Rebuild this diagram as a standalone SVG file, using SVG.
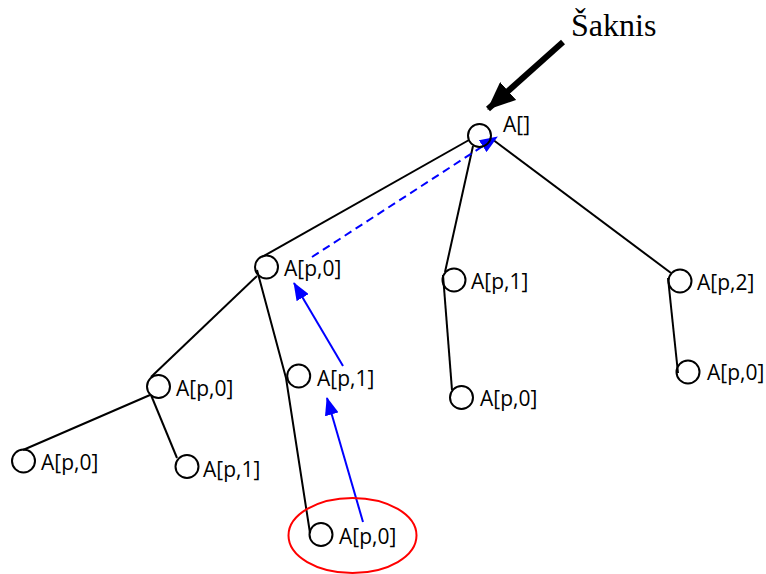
<svg xmlns="http://www.w3.org/2000/svg" width="766" height="574" viewBox="0 0 766 574">
<style>
.n{fill:none;stroke:#000;stroke-width:2}
.e{fill:none;stroke:#000;stroke-width:2}
.t{font-family:"Open Sans","DejaVu Sans",sans-serif;font-size:21px;fill:#000}
.b{fill:none;stroke:#0000ff;stroke-width:2}
</style>
<defs>
<marker id="ab" markerWidth="18" markerHeight="14" refX="17" refY="7" orient="auto" markerUnits="userSpaceOnUse">
<path d="M0,0 L18,7 L0,14 Z" fill="#0000ff"/>
</marker>
<marker id="ak" markerWidth="28" markerHeight="24" refX="27" refY="12" orient="auto" markerUnits="userSpaceOnUse">
<path d="M0,0 L28,12 L0,24 Z" fill="#000"/>
</marker>
</defs>
<rect width="766" height="574" fill="#fff"/>
<g id="connectors">
<line class="e" x1="469" y1="140" x2="262" y2="257"/>
<line class="e" x1="473" y1="146" x2="445" y2="272"/>
<line class="e" x1="492" y1="139" x2="671" y2="273"/>
<line class="e" x1="257" y1="276" x2="151" y2="377"/>
<polyline class="e" points="257,270 286,378 310,533"/>
<line class="e" x1="150" y1="395" x2="23" y2="450"/>
<line class="e" x1="151" y1="395" x2="177" y2="458"/>
<line class="e" x1="443" y1="275" x2="452" y2="390"/>
<line class="e" x1="668" y1="278" x2="678" y2="373"/>
<line class="b" x1="312" y1="257" x2="497" y2="137" stroke-dasharray="8,5" marker-end="url(#ab)"/>
<line class="b" x1="343" y1="366" x2="294" y2="283" marker-end="url(#ab)"/>
<line class="b" x1="363" y1="522" x2="327" y2="398" marker-end="url(#ab)"/>
<line x1="563" y1="42" x2="488" y2="109" stroke="#000" stroke-width="6" marker-end="url(#ak)"/>
</g>
<g id="root"><circle class="n" cx="479.5" cy="135.5" r="11.5"/><text class="t" x="503" y="132">A[]</text></g>
<g id="n1"><circle class="n" cx="266.5" cy="267" r="11.5"/><text class="t" x="284" y="276">A[p,0]</text></g>
<g id="n2"><circle class="n" cx="454" cy="280" r="11.5"/><text class="t" x="471" y="289">A[p,1]</text></g>
<g id="n3"><circle class="n" cx="680" cy="281" r="11.5"/><text class="t" x="697" y="290">A[p,2]</text></g>
<g id="n4"><circle class="n" cx="158.5" cy="386.5" r="11.5"/><text class="t" x="176" y="396">A[p,0]</text></g>
<g id="n5"><circle class="n" cx="298.7" cy="376" r="11.5"/><text class="t" x="317" y="386">A[p,1]</text></g>
<g id="n6"><circle class="n" cx="461.5" cy="397.5" r="11.5"/><text class="t" x="480" y="406">A[p,0]</text></g>
<g id="n7"><circle class="n" cx="688" cy="372" r="11.5"/><text class="t" x="707" y="380">A[p,0]</text></g>
<g id="n8"><circle class="n" cx="23.5" cy="461" r="11.5"/><text class="t" x="41" y="470">A[p,0]</text></g>
<g id="n9"><circle class="n" cx="187" cy="466.5" r="11.5"/><text class="t" x="203" y="477">A[p,1]</text></g>
<g id="n10"><circle class="n" cx="321" cy="534.5" r="11.5"/><text class="t" x="339" y="544">A[p,0]</text></g>
<ellipse id="highlight" cx="352.5" cy="535.5" rx="64" ry="37.5" fill="none" stroke="#ff0000" stroke-width="2"/>
<text id="label" x="571" y="36" font-family="'Liberation Serif',serif" font-size="32">Šaknis</text>
</svg>
